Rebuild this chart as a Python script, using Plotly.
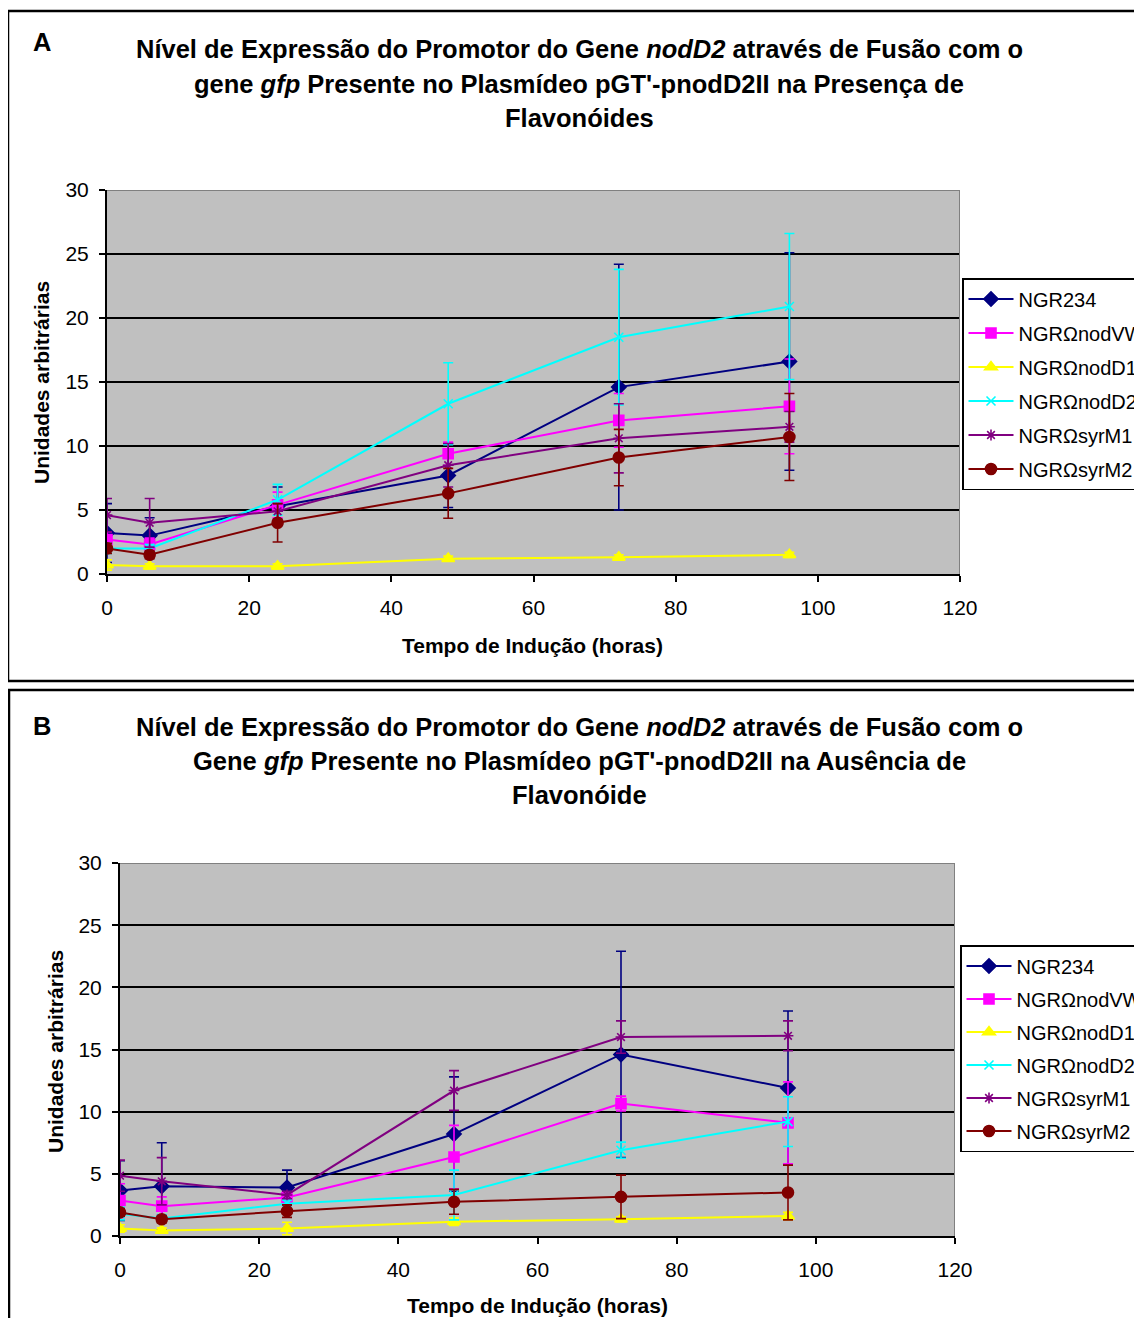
import plotly.graph_objects as go

W, H = 1142, 1310
FONT = "Liberation Sans, Arial, sans-serif"

# ---------------- data ----------------
times = [0, 6, 24, 48, 72, 96]
series_names = ["NGR234", "NGRΩnodVW", "NGRΩnodD1", "NGRΩnodD2", "NGRΩsyrM1", "NGRΩsyrM2"]

# Panel A (presence of flavonoids)
a_ngr234 = [3.2, 3.0, 5.3, 7.7, 14.6, 16.6]
a_ngr234_err = [2.3, 1.4, 1.5, 2.5, 9.6, 8.5]
a_nodvw = [2.7, 2.3, 5.4, 9.4, 12.0, 13.1]
a_nodvw_err = [0.6, 0.5, 1.0, 0.9, 2.1, 3.7]
a_noddl = [0.7, 0.6, 0.6, 1.2, 1.3, 1.5]
a_noddl_err = [0.4, 0.2, 0.2, 0.2, 0.2, 0.2]
a_nodd2 = [2.0, 2.0, 5.8, 13.3, 18.5, 20.9]
a_nodd2_err = [0.4, 0.3, 1.2, 3.2, 5.3, 5.7]
a_syrm1 = [4.6, 4.0, 4.9, 8.5, 10.6, 11.5]
a_syrm1_err = [1.3, 1.9, 0.6, 1.7, 2.7, 1.2]
a_syrm2 = [2.0, 1.5, 4.0, 6.3, 9.1, 10.7]
a_syrm2_err = [0.4, 0.3, 1.5, 1.95, 2.2, 3.4]

# Panel B (absence of flavonoid)
b_ngr234 = [3.65, 4.0, 3.9, 8.2, 14.6, 11.9]
b_ngr234_err = [2.4, 3.5, 1.4, 4.6, 8.3, 6.2]
b_nodvw = [2.85, 2.4, 3.1, 6.35, 10.65, 9.1]
b_nodvw_err = [1.35, 0.75, 0.4, 2.55, 0.6, 3.3]
b_noddl = [0.6, 0.45, 0.6, 1.15, 1.35, 1.6]
b_noddl_err = [0.3, 0.2, 0.5, 0.3, 0.2, 0.3]
b_nodd2 = [1.8, 1.4, 2.6, 3.3, 6.9, 9.2]
b_nodd2_err = [0.5, 0.3, 0.3, 2.0, 0.65, 2.0]
b_syrm1 = [4.85, 4.4, 3.3, 11.7, 16.0, 16.1]
b_syrm1_err = [1.25, 1.9, 0.3, 1.6, 1.3, 1.2]
b_syrm2 = [1.9, 1.35, 2.0, 2.75, 3.15, 3.5]
b_syrm2_err = [0.3, 0.3, 0.5, 1.0, 1.75, 2.2]

x_ticks = [0, 20, 40, 60, 80, 100, 120]
y_ticks = [0, 5, 10, 15, 20, 25, 30]

title_a = ["Nível de Expressão do Promotor do Gene <i>nodD2</i> através de Fusão com o",
           "gene <i>gfp</i> Presente no Plasmídeo pGT'-pnodD2II na Presença de",
           "Flavonóides"]
title_b = ["Nível de Expressão do Promotor do Gene <i>nodD2</i> através de Fusão com o",
           "Gene <i>gfp</i> Presente no Plasmídeo pGT'-pnodD2II na Ausência de",
           "Flavonóide"]
x_title = "Tempo de Indução (horas)"
y_title = "Unidades arbitrárias"

# ---------------- styles ----------------
colors = ["#000080", "#FF00FF", "#FFFF00", "#00FFFF", "#800080", "#800000"]
symbols = ["diamond", "square", "triangle-up", "x-thin-open", "asterisk-open", "circle"]
msizes = [11, 10, 11, 9, 9, 11]

panel_a = [(a_ngr234, a_ngr234_err), (a_nodvw, a_nodvw_err), (a_noddl, a_noddl_err),
           (a_nodd2, a_nodd2_err), (a_syrm1, a_syrm1_err), (a_syrm2, a_syrm2_err)]
panel_b = [(b_ngr234, b_ngr234_err), (b_nodvw, b_nodvw_err), (b_noddl, b_noddl_err),
           (b_nodd2, b_nodd2_err), (b_syrm1, b_syrm1_err), (b_syrm2, b_syrm2_err)]

OFF = 8  # page body margin offset


def px(x):
    return (x - OFF) / W


def py(y):
    return 1 - (y - OFF) / H


fig = go.Figure()

for panel, xa, ya, leg, pref in [(panel_a, "x", "y", "legend", "a"),
                                 (panel_b, "x2", "y2", "legend2", "b")]:
    for i, (vals, errs) in enumerate(panel):
        fig.add_trace(go.Scatter(
            x=times, y=vals, name=series_names[i], xaxis=xa, yaxis=ya,
            mode="lines+markers", legend=leg, legendgroup=f"{pref}{i}",
            line=dict(color=colors[i], width=2),
            marker=dict(symbol=symbols[i], size=msizes[i], color=colors[i],
                        line=dict(color=colors[i], width=1.6)),
            error_y=dict(type="data", array=errs, color=colors[i], thickness=1.6, width=5),
        ))

axis_common = dict(showline=True, linecolor="black", linewidth=2, ticks="outside",
                   ticklen=6, tickcolor="black", tickwidth=1.5, automargin=False,
                   tickfont=dict(family=FONT, size=21, color="black"), zeroline=False)

fig.update_layout(
    width=W, height=H, paper_bgcolor="white", plot_bgcolor="#C0C0C0",
    margin=dict(l=0, r=0, t=0, b=0, pad=0, autoexpand=False), showlegend=True,
    font=dict(family=FONT, color="black"),
    xaxis=dict(domain=[px(107), px(960)], anchor="y", range=[0, 120], tickvals=x_ticks,
               showgrid=False, ticklabelstandoff=8, **axis_common),
    yaxis=dict(domain=[py(574), py(190)], anchor="x", range=[0, 30], tickvals=y_ticks,
               showgrid=True, gridcolor="black", gridwidth=1.6, ticklabelstandoff=6,
               **axis_common),
    xaxis2=dict(domain=[px(120), px(955)], anchor="y2", range=[0, 120], tickvals=x_ticks,
                showgrid=False, ticklabelstandoff=8, **axis_common),
    yaxis2=dict(domain=[py(1236), py(863)], anchor="x2", range=[0, 30], tickvals=y_ticks,
                showgrid=True, gridcolor="black", gridwidth=1.6, ticklabelstandoff=6,
                **axis_common),
    legend=dict(x=px(962), y=py(278), xanchor="left", yanchor="top", bgcolor="white",
                bordercolor="black", borderwidth=1.5, tracegroupgap=5, itemwidth=45,
                font=dict(family=FONT, size=20, color="black")),
    legend2=dict(x=px(960), y=py(945), xanchor="left", yanchor="top", bgcolor="white",
                 bordercolor="black", borderwidth=1.5, tracegroupgap=4, itemwidth=45,
                 font=dict(family=FONT, size=20, color="black")),
)

shapes = []
# panel borders
shapes.append(dict(type="rect", xref="paper", yref="paper", x0=px(8), x1=px(1170),
                   y0=py(681), y1=py(11), line=dict(color="black", width=2.5)))
shapes.append(dict(type="rect", xref="paper", yref="paper", x0=px(9), x1=px(1170),
                   y0=py(1360), y1=py(690), line=dict(color="black", width=2.5)))
# grey top / right frame of plot areas
for xr, yr in [("x", "y"), ("x2", "y2")]:
    shapes.append(dict(type="line", xref=xr, yref=yr, x0=0, x1=120, y0=30, y1=30,
                       line=dict(color="#808080", width=2), layer="above"))
    shapes.append(dict(type="line", xref=xr, yref=yr, x0=120, x1=120, y0=0, y1=30,
                       line=dict(color="#808080", width=2), layer="above"))
fig.update_layout(shapes=shapes)

ann = []
title_font = dict(family=FONT, size=25.5, color="black")
for lines, ys, letter, ly in [(title_a, [49, 84, 118], "A", 42), (title_b, [727, 761, 795], "B", 726)]:
    for txt, yy in zip(lines, ys):
        ann.append(dict(text=f"<b>{txt}</b>", x=px(579), y=py(yy), xref="paper", yref="paper",
                        xanchor="center", yanchor="middle", showarrow=False, font=title_font))
    ann.append(dict(text=f"<b>{letter}</b>", x=px(31), y=py(ly), xref="paper", yref="paper",
                    xanchor="left", yanchor="middle", showarrow=False, font=title_font))

ax_font = dict(family=FONT, size=21, color="black")
ann.append(dict(text=f"<b>{x_title}</b>", x=px(532), y=py(645), xref="paper", yref="paper",
                xanchor="center", yanchor="middle", showarrow=False, font=ax_font))
ann.append(dict(text=f"<b>{y_title}</b>", x=px(42), y=py(383), xref="paper", yref="paper",
                xanchor="center", yanchor="middle", showarrow=False, font=ax_font, textangle=-90))
ann.append(dict(text=f"<b>{x_title}</b>", x=px(537), y=py(1305), xref="paper", yref="paper",
                xanchor="center", yanchor="middle", showarrow=False, font=ax_font))
ann.append(dict(text=f"<b>{y_title}</b>", x=px(55), y=py(1051), xref="paper", yref="paper",
                xanchor="center", yanchor="middle", showarrow=False, font=ax_font, textangle=-90))
fig.update_layout(annotations=ann)

fig.write_html("out.html")
